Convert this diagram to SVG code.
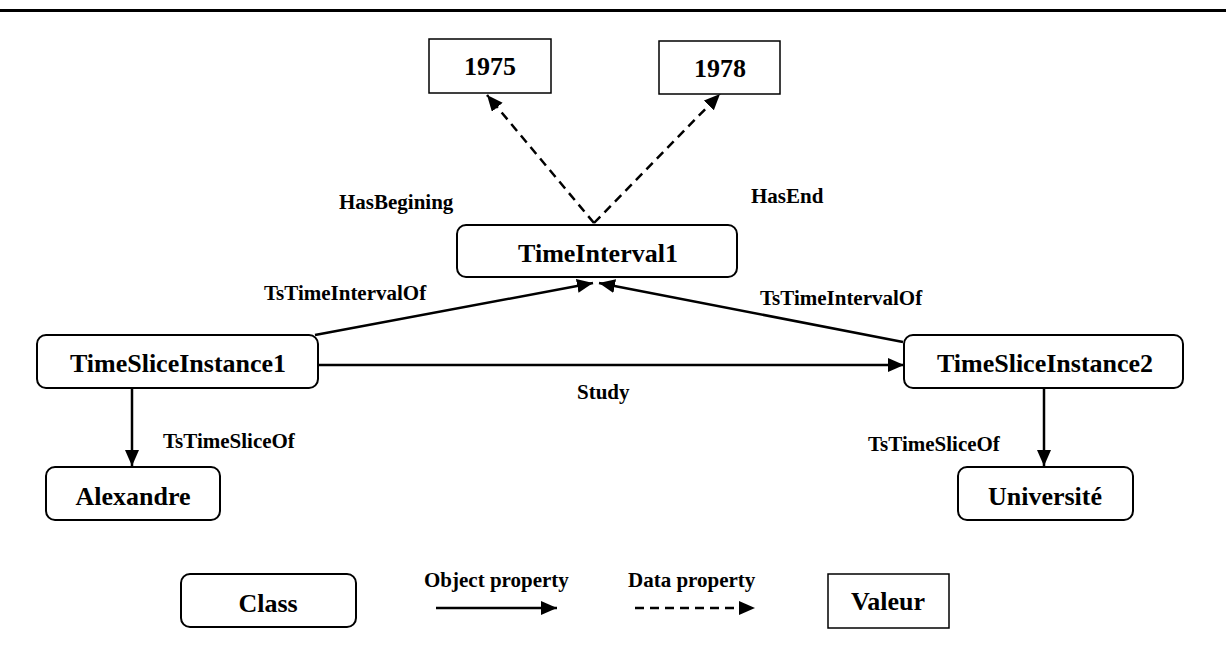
<svg xmlns="http://www.w3.org/2000/svg" width="1226" height="645" viewBox="0 0 1226 645">
<style>
.cls{fill:#fff;stroke:#000;stroke-width:2}
.val{fill:#fff;stroke:#000;stroke-width:1.5}
.nt{font-family:"Liberation Serif","Times New Roman",serif;font-weight:bold;font-size:26px;text-anchor:middle;fill:#000}
.et{font-family:"Liberation Serif","Times New Roman",serif;font-weight:bold;font-size:21px;fill:#000}
.obj{stroke:#000;stroke-width:2.5;fill:none;marker-end:url(#ah)}
.dat{stroke:#000;stroke-width:2.5;fill:none;stroke-dasharray:9 6;marker-end:url(#ah)}
</style>
<defs>
<marker id="ah" markerUnits="userSpaceOnUse" markerWidth="18" markerHeight="16" refX="16" refY="7" orient="auto">
<path d="M0,0 L16,7 L0,14 Z" fill="#000"/>
</marker>
</defs>
<rect x="0" y="9" width="1226" height="3" fill="#000"/>
<g id="connectors">
<line class="dat" x1="594" y1="223" x2="487" y2="95"/>
<line class="dat" x1="594" y1="223" x2="720" y2="94"/>
<line class="obj" x1="315" y1="335" x2="593" y2="283"/>
<line class="obj" x1="903" y1="342" x2="599" y2="283"/>
<line class="obj" x1="318" y1="365" x2="904" y2="365"/>
<line class="obj" x1="132" y1="388" x2="132" y2="466"/>
<line class="obj" x1="1044" y1="388" x2="1044" y2="466"/>
<text class="et" x="339" y="209">HasBegining</text>
<text class="et" x="751" y="203">HasEnd</text>
<text class="et" x="264" y="300">TsTimeIntervalOf</text>
<text class="et" x="760" y="305">TsTimeIntervalOf</text>
<text class="et" x="577" y="399">Study</text>
<text class="et" x="163" y="448">TsTimeSliceOf</text>
<text class="et" x="868" y="451">TsTimeSliceOf</text>
</g>
<g id="v1975">
<rect class="val" x="429" y="39" width="122" height="54"/>
<text class="nt" x="490" y="75">1975</text>
</g>
<g id="v1978">
<rect class="val" x="659" y="41" width="121" height="53"/>
<text class="nt" x="720" y="77">1978</text>
</g>
<g id="TimeInterval1">
<rect class="cls" x="457" y="225" width="280" height="52" rx="9"/>
<text class="nt" x="598" y="262">TimeInterval1</text>
</g>
<g id="TimeSliceInstance1">
<rect class="cls" x="37" y="335" width="281" height="53" rx="9"/>
<text class="nt" x="178" y="372">TimeSliceInstance1</text>
</g>
<g id="TimeSliceInstance2">
<rect class="cls" x="904" y="335" width="279" height="53" rx="9"/>
<text class="nt" x="1045" y="372">TimeSliceInstance2</text>
</g>
<g id="Alexandre">
<rect class="cls" x="46" y="467" width="174" height="53" rx="9"/>
<text class="nt" x="133" y="505">Alexandre</text>
</g>
<g id="Universite">
<rect class="cls" x="958" y="467" width="175" height="53" rx="9"/>
<text class="nt" x="1045" y="505">Université</text>
</g>
<g id="legend">
<g id="legend-class">
<rect class="cls" x="181" y="574" width="175" height="53" rx="9"/>
<text class="nt" x="268" y="612">Class</text>
</g>
<g id="legend-object">
<text class="et" x="424" y="587">Object property</text>
<line class="obj" x1="436" y1="608" x2="557" y2="608"/>
</g>
<g id="legend-data">
<text class="et" x="628" y="587">Data property</text>
<line class="dat" x1="635" y1="608" x2="755" y2="608"/>
</g>
<g id="legend-valeur">
<rect class="val" x="828" y="574" width="121" height="54"/>
<text class="nt" x="888" y="610">Valeur</text>
</g>
</g>
</svg>
